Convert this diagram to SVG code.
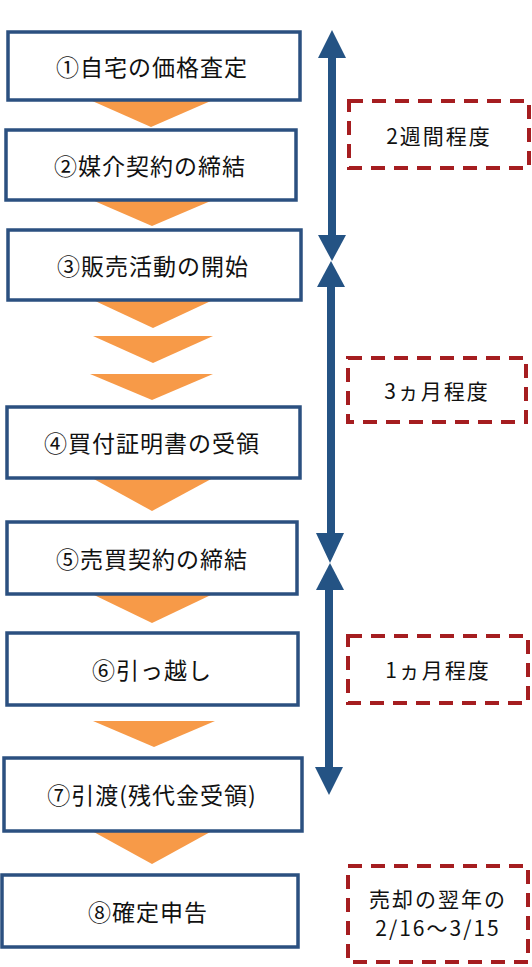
<svg xmlns="http://www.w3.org/2000/svg" width="532" height="967" viewBox="0 0 532 967">
<style>
.box{fill:#fff;stroke:#2b5080;stroke-width:3.5}
.lbl{font-family:"Noto Sans CJK JP","Noto Sans",sans-serif;font-size:23px;fill:#111;text-anchor:middle;dominant-baseline:central;letter-spacing:1px}
.chev{fill:#f79a48}
.dash{fill:none;stroke:#a51d20;stroke-width:4;stroke-dasharray:14 9}
.note{font-family:"Noto Sans CJK JP","Noto Sans",sans-serif;font-size:21px;fill:#111;text-anchor:middle;dominant-baseline:central;letter-spacing:2px}
.arr{stroke:#245384;stroke-width:8;fill:none}
.head{fill:#245384}
</style>
<rect width="532" height="967" fill="#fff"/>
<g id="connectors">
<polygon class="chev" points="90,100 213,100 151,127"/>
<polygon class="chev" points="92,200 213,200 152,226"/>
<polygon class="chev" points="93,300 213,300 153,328"/>
<polygon class="chev" points="93,336 213,336 153,363"/>
<polygon class="chev" points="90,374 213,374 152,400"/>
<polygon class="chev" points="92,478 213,478 152,511"/>
<polygon class="chev" points="92,594 213,594 152,623"/>
<polygon class="chev" points="93,721 215,721 154,747"/>
<polygon class="chev" points="92,831 212,831 152,864"/>
<line class="arr" x1="332" y1="55" x2="332" y2="238"/>
<polygon class="head" points="332,30 318,58 346,58"/>
<polygon class="head" points="332,261 318,235 346,235"/>
<line class="arr" x1="331" y1="284" x2="331" y2="537"/>
<polygon class="head" points="331,261 317,287 345,287"/>
<polygon class="head" points="330,563 316,533 344,533"/>
<line class="arr" x1="329" y1="587" x2="329" y2="770"/>
<polygon class="head" points="330,563 316,590 344,590"/>
<polygon class="head" points="329,795 315,767 343,767"/>
</g>
<g id="n1"><rect class="box" x="8" y="32" width="292" height="68"/><text class="lbl" x="152" y="66">①自宅の価格査定</text></g>
<g id="n2"><rect class="box" x="6" y="130" width="290" height="70"/><text class="lbl" x="150" y="165">②媒介契約の締結</text></g>
<g id="n3"><rect class="box" x="8" y="230" width="293" height="70"/><text class="lbl" x="153" y="265">③販売活動の開始</text></g>
<g id="n4"><rect class="box" x="7" y="407" width="293" height="71"/><text class="lbl" x="152" y="442">④買付証明書の受領</text></g>
<g id="n5"><rect class="box" x="7" y="522" width="290" height="72"/><text class="lbl" x="152" y="558">⑤売買契約の締結</text></g>
<g id="n6"><rect class="box" x="7" y="633" width="291" height="72"/><text class="lbl" x="152" y="669">⑥引っ越し</text></g>
<g id="n7"><rect class="box" x="4" y="758" width="298" height="73"/><text class="lbl" x="152" y="794">⑦引渡(残代金受領)</text></g>
<g id="n8"><rect class="box" x="2" y="875" width="296" height="72"/><text class="lbl" x="148" y="911">⑧確定申告</text></g>
<g id="noteA"><rect class="dash" x="349" y="101" width="180" height="67"/><text class="note" x="439" y="135">2週間程度</text></g>
<g id="noteB"><rect class="dash" x="348" y="358" width="178" height="64"/><text class="note" x="437" y="390">3ヵ月程度</text></g>
<g id="noteC"><rect class="dash" x="348" y="636" width="180" height="67"/><text class="note" x="438" y="669">1ヵ月程度</text></g>
<g id="noteD"><rect class="dash" x="348" y="866" width="180" height="96"/><text class="note" x="438" y="898">売却の翌年の</text><text class="note" x="438" y="927">2/16〜3/15</text></g>
</svg>
